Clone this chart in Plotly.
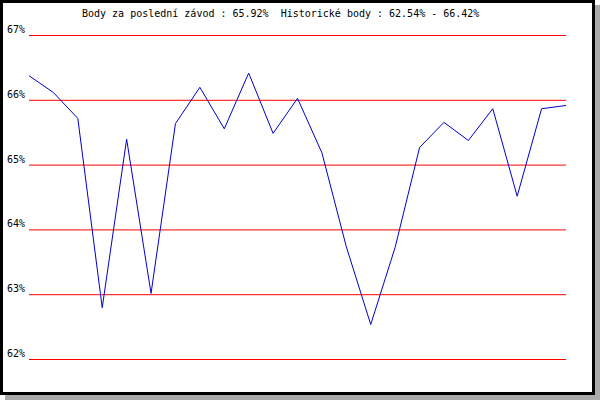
import plotly.graph_objects as go

# Data
races = list(range(23))
points = [66.38, 66.12, 65.72, 62.80, 65.40, 63.02, 65.64, 66.20, 65.56, 66.42,
          65.49, 66.03, 65.19, 63.74, 62.54, 63.73, 65.27, 65.66, 65.38, 65.87,
          64.52, 65.87, 65.92]
tick_vals = [62, 63, 64, 65, 66, 67]
tick_text = ["62%", "63%", "64%", "65%", "66%", "67%"]
title_text = "Body za poslední závod : 65.92%  Historické body : 62.54% - 66.42%"

W, H = 600, 400
ML, MR, MT, MB = 29, 34, 34, 40
PW, PH = W - ML - MR, H - MT - MB
unit = 64.8

def px(x):
    return (x - ML) / PW

def py(y):
    return (H - MB - y) / PH

FONT = "DejaVu Sans Mono"

fig = go.Figure()
fig.add_trace(go.Scatter(x=races, y=points, mode="lines",
                         line=dict(color="#0000cc", width=1), hoverinfo="skip"))

shapes = []
for v in tick_vals:
    shapes.append(dict(type="line", xref="paper", yref="y", x0=0, x1=1, y0=v, y1=v,
                       line=dict(color="#ff0000", width=1), layer="below"))
# shadow
shapes.append(dict(type="rect", xref="paper", yref="paper",
                   x0=px(595), x1=px(600), y0=py(400), y1=py(5),
                   fillcolor="#aaaaaa", line=dict(width=0)))
shapes.append(dict(type="rect", xref="paper", yref="paper",
                   x0=px(5), x1=px(600), y0=py(400), y1=py(395),
                   fillcolor="#aaaaaa", line=dict(width=0)))
# black frame
for (x0, y0, x1, y1) in [(0, 0, 595, 3), (0, 392, 595, 395), (0, 0, 3, 395), (592, 0, 595, 395)]:
    shapes.append(dict(type="rect", xref="paper", yref="paper",
                       x0=px(x0), x1=px(x1), y0=py(y1), y1=py(y0),
                       fillcolor="black", line=dict(width=0)))

annotations = []
for v, t in zip(tick_vals, tick_text):
    annotations.append(dict(x=px(27), y=v, xref="paper", yref="y", text=t,
                            showarrow=False, xanchor="right", yanchor="middle",
                            yshift=6, font=dict(family=FONT, size=10, color="black")))
annotations.append(dict(x=px(280), y=py(13.5), xref="paper", yref="paper",
                        text=title_text, showarrow=False, xanchor="center",
                        yanchor="middle", font=dict(family=FONT, size=10, color="black")))

fig.update_layout(
    width=W, height=H,
    margin=dict(l=ML, r=MR, t=MT, b=MB, pad=0),
    paper_bgcolor="white", plot_bgcolor="white",
    showlegend=False,
    xaxis=dict(range=[0, 22], visible=False, showgrid=False, zeroline=False),
    yaxis=dict(range=[62 - 0.5 / unit, 67 + 1.5 / unit], visible=False, showgrid=False, zeroline=False),
    shapes=shapes, annotations=annotations,
)

fig.write_html("out.html", config={"displayModeBar": False},
               post_script="document.body.style.margin='0';document.body.style.overflow='hidden';")
